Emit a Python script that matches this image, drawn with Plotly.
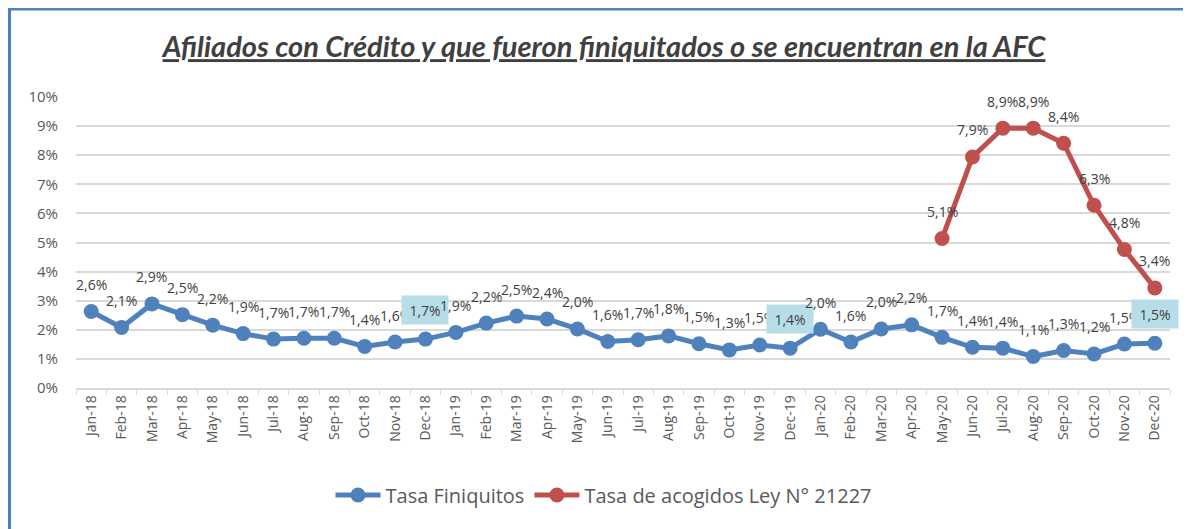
import plotly.graph_objects as go

months = ["Jan-18","Feb-18","Mar-18","Apr-18","May-18","Jun-18","Jul-18","Aug-18","Sep-18","Oct-18","Nov-18","Dec-18",
          "Jan-19","Feb-19","Mar-19","Apr-19","May-19","Jun-19","Jul-19","Aug-19","Sep-19","Oct-19","Nov-19","Dec-19",
          "Jan-20","Feb-20","Mar-20","Apr-20","May-20","Jun-20","Jul-20","Aug-20","Sep-20","Oct-20","Nov-20","Dec-20"]
finiquitos = [0.0263,0.0208,0.0289,0.0252,0.0216,0.0187,0.0168,0.0171,0.0171,0.0143,0.0158,0.0168,
              0.0191,0.0223,0.0247,0.0237,0.0203,0.0160,0.0166,0.0179,0.0152,0.0131,0.0148,0.0137,
              0.0202,0.0158,0.0203,0.0217,0.0174,0.0140,0.0137,0.0108,0.0129,0.0117,0.0151,0.0154]
acogidos_months = ["May-20","Jun-20","Jul-20","Aug-20","Sep-20","Oct-20","Nov-20","Dec-20"]
acogidos = [0.0514,0.0794,0.0893,0.0893,0.0841,0.0628,0.0476,0.0344]
boxed_months = ["Dec-18","Dec-19","Dec-20"]

BLUE = "#4F81BD"
RED = "#C0504D"
FONT = "'Open Sans', sans-serif"
TFONT = "Lato, sans-serif"

fig = go.Figure()
fig.add_trace(go.Scatter(x=months, y=finiquitos, mode="lines+markers", name="Tasa Finiquitos",
                         line=dict(color=BLUE, width=5), marker=dict(color=BLUE, size=15)))
fig.add_trace(go.Scatter(x=acogidos_months, y=acogidos, mode="lines+markers", name="Tasa de acogidos Ley N° 21227",
                         line=dict(color=RED, width=5), marker=dict(color=RED, size=15)))

def fmt(v):
    return f"{round(v*100, 1):.1f}%".replace(".", ",")

annotations = []
for m, v in zip(months, finiquitos):
    a = dict(x=m, y=v, text=fmt(v), showarrow=False, yshift=27,
             font=dict(family=FONT, size=14, color="#404040"))
    if m in boxed_months:
        a.update(bgcolor="#B7DEE8", borderpad=6, width=34, height=16, yshift=29)
    annotations.append(a)
for m, v in zip(acogidos_months, acogidos):
    annotations.append(dict(x=m, y=v, text=fmt(v), showarrow=False, yshift=27,
                            font=dict(family=FONT, size=14, color="#404040")))

# page body has an 8px margin: work in screen pixels and subtract it
OFF = 8
W, H = 1191 - OFF, 529 - OFF
L, T = 76 - OFF, 97 - OFF
R = 1191 - 1170
B = 529 - 388
pw, ph = W - L - R, H - T - B
def px(x): return (x - OFF - L) / pw
def py(y): return (H - B - (y - OFF)) / ph
shapes = [
    dict(type="line", xref="paper", yref="paper", x0=px(9.5), x1=px(9.5), y0=py(8), y1=py(560),
         line=dict(color=BLUE, width=3)),
    dict(type="line", xref="paper", yref="paper", x0=px(8), x1=px(1220), y0=py(9), y1=py(9),
         line=dict(color=BLUE, width=3)),
]

fig.update_layout(
    width=W, height=H,
    margin=dict(l=L, r=R, t=T, b=B),
    paper_bgcolor="white", plot_bgcolor="white",
    font=dict(family=FONT, color="#595959"),
    title=dict(text="Afiliados con Crédito y que fueron finiquitados o se encuentran en la AFC",
               x=(604 - OFF) / W, xanchor="center", y=1 - (47 - OFF) / H, yanchor="middle", yref="container",
               font=dict(family=TFONT, size=29, color="#404040", weight="bold", style="italic",
                         lineposition="under")),
    xaxis=dict(type="category", categoryorder="array", categoryarray=months,
               tickangle=-90, tickfont=dict(size=14, color="#595959"),
               showline=True, linecolor="#D9D9D9", linewidth=1.5,
               ticks="outside", tickson="boundaries", ticklen=5, tickcolor="#D9D9D9",
               showgrid=False, range=[-0.5, 35.5]),
    yaxis=dict(range=[0, 0.10], dtick=0.01, tickformat=".0%", tickfont=dict(size=15, color="#595959"),
               showgrid=True, gridcolor="#D9D9D9", gridwidth=1.5, zeroline=False,
               ticklabelstandoff=17),
    legend=dict(orientation="h", x=px(604), xanchor="center", y=py(495), yanchor="middle",
                font=dict(size=20, color="#595959"), itemwidth=45),
    annotations=annotations,
    shapes=shapes,
    showlegend=True,
)

fig.write_html("out.html")
